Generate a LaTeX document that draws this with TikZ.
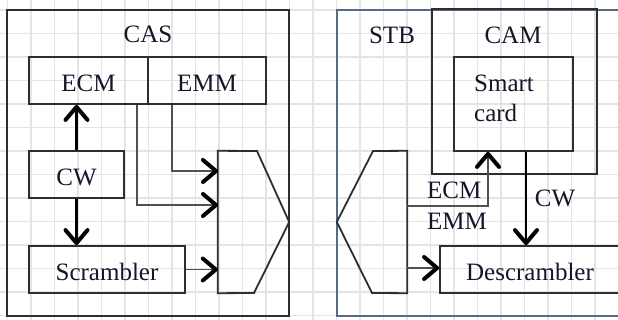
\documentclass[tikz,border=0pt]{standalone}
\usepackage{fontspec}
\setmainfont{Liberation Serif}
\usetikzlibrary{arrows.meta}
\definecolor{gridc}{HTML}{E4E4E4}
\definecolor{boxc}{HTML}{2E2E2E}
\definecolor{stbc}{HTML}{56698A}
\definecolor{txtc}{HTML}{15152A}
\definecolor{shaftc}{HTML}{505050}
\begin{document}
\begin{tikzpicture}[x=1pt,y=-1pt,
  font=\fontsize{25}{30}\selectfont,
  box/.style={draw=boxc,line width=1.8pt,inner sep=0pt,text=txtc,text height=22pt,text depth=0pt},
  frame/.style={inner sep=0pt,minimum width=0pt},
  txt/.style={inner sep=0pt,text=txtc},
  boldarrow/.style={draw=black,line width=2.3pt,-{Straight Barb[length=13pt,width=22pt,line width=4pt,round]}},
  thinarrow/.style={draw=shaftc,line width=1.5pt,-{Straight Barb[length=13pt,width=22pt,line width=4pt,round,color=black]}},
  shapeline/.style={draw=boxc,line width=1.8pt,line join=miter}
]
\useasboundingbox (0,0) rectangle (618,320);
\clip (0,0) rectangle (618,320);
% grid
\foreach \k in {0,...,26} \draw[gridc,line width=1.2pt] ({7.5+23.5*\k},0) -- ({7.5+23.5*\k},320);
\foreach \k in {0,...,13} \draw[gridc,line width=1.2pt] (0,{10+23.5*\k}) -- (618,{10+23.5*\k});

% CAS side
\node[box,minimum width=282pt,minimum height=306pt] (cas) at (148,163) {};
\node[txt,anchor=base] (castxt) at (148,43) {CAS};
\node[box,minimum width=119pt,minimum height=47pt] (ecm) at (88.5,80.5) {ECM};
\node[box,minimum width=118pt,minimum height=47pt] (emm) at (207,80.5) {EMM};
\node[box,minimum width=95pt,minimum height=47pt] (cw) at (76.5,174.5) {CW};
\node[box,minimum width=156pt,minimum height=47pt] (scr) at (107,269.5) {Scrambler};
\node[frame,minimum width=71pt,minimum height=142pt] (mux) at (253.5,222) {};
\draw[shapeline] (mux.north west) -- (257,151) -- (mux.east) -- (254,293) -- (mux.south west) -- cycle;
\coordinate (mi1) at (218,171);
\coordinate (mi2) at (218,205);

\draw[boldarrow] (cw.north) -- (ecm.south -| cw.north);
\draw[boldarrow] (cw.south) -- (scr.north -| cw.south);
\draw[thinarrow] ([xshift=-35pt]emm.south) |- (mi1);
\draw[thinarrow] ([xshift=48.5pt]ecm.south) |- (mi2);
\draw[thinarrow] (scr.east) -- (mux.west |- scr.east);

% STB side
\node[box,draw=stbc,minimum width=323pt,minimum height=306pt] (stb) at (498.5,163) {};
\node[txt,anchor=base] (stbtxt) at (392,44) {STB};
\node[box,minimum width=165pt,minimum height=165pt] (cam) at (514.5,91.5) {};
\node[txt,anchor=base] (camtxt) at (513,44) {CAM};
\node[box,minimum width=119pt,minimum height=94pt] (sc) at (513.5,104) {};
\node[txt,align=left,anchor=north west] (sctxt) at (474,75) {Smart\\card};
\node[box,minimum width=180pt,minimum height=47pt] (desc) at (530,269.5) {Descrambler};
\node[frame,minimum width=70pt,minimum height=142pt] (dmx) at (372,222) {};
\draw[shapeline] (dmx.north east) -- (373,151) -- (dmx.west) -- (372,293) -- (dmx.south east) -- cycle;
\coordinate (do1) at (407,206);
\coordinate (do2) at (407,268);
\coordinate (scin) at ([xshift=-25.5pt]sc.south);
\coordinate (scout) at ([xshift=12.5pt]sc.south);

\draw[thinarrow] (do1) -| (scin);
\draw[boldarrow,line width=1.9pt] (scout) -- (desc.north -| scout);
\draw[thinarrow] (do2) -- (desc.west |- do2);
\node[txt,align=left,anchor=north west,font=\fontsize{25}{31}\selectfont] (ecmemm) at (427,182) {ECM\\EMM};
\node[txt,anchor=base] (cwtxt) at (555,207) {CW};
\end{tikzpicture}
\end{document}
